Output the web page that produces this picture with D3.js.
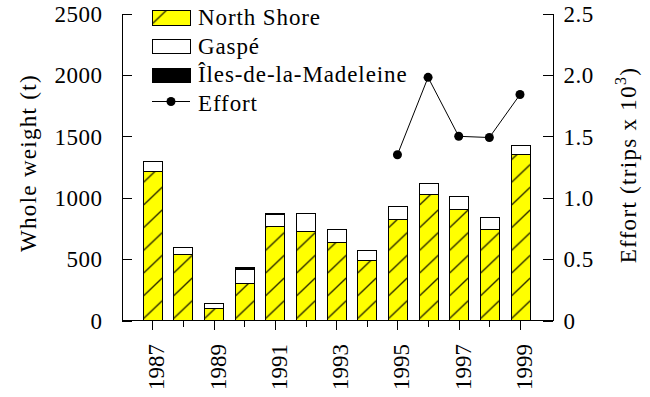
<!DOCTYPE html>
<meta charset="utf-8">
<style type="text/css">
body {
  margin: 0;
  background: #fff;
}
svg text {
  font-family: "Liberation Serif", "Times New Roman", serif;
  font-size: 23px;
  fill: #000;
}
.axis text {
  letter-spacing: 0.5px;
}
text.leg {
  letter-spacing: 0.9px;
}
text.title {
  letter-spacing: 1.3px;
}
tspan.sup {
  font-size: 16px;
}
.axis path,
.axis line {
  fill: none;
  stroke: #000;
  stroke-width: 1px;
  shape-rendering: crispEdges;
}
.bar rect {
  stroke: #000;
  stroke-width: 1px;
  shape-rendering: crispEdges;
}
</style>
<body>
</body>

<script src="https://cdn.jsdelivr.net/npm/d3@7"></script>
<script>
var years = [1987, 1988, 1989, 1990, 1991, 1992, 1993, 1994, 1995, 1996, 1997, 1998, 1999];
var northShore = [1217, 541, 99, 303, 769, 723, 633, 492, 826, 1030, 902, 742, 1350];
var gaspe = [81, 55, 38, 112, 92, 146, 106, 79, 104, 84, 109, 98, 78];
var iles = [0, 0, 0, 15, 8, 0, 0, 0, 0, 0, 0, 0, 0];

var effortYears = [1995, 1996, 1997, 1998, 1999];
var effort = [1.35, 1.98, 1.50, 1.49, 1.84];

var leftTicks = [0, 500, 1000, 1500, 2000, 2500];
var rightTicks = [0, 0.5, 1.0, 1.5, 2.0, 2.5];
var labelYears = [1987, 1989, 1991, 1993, 1995, 1997, 1999];

var W = 650, H = 397;
var plotLeft = 121.5, plotRight = 552.5, plotTop = 13.5, plotBottom = 320.5;
var barWidth = 19;

var svg = d3.select("body")
  .append("svg")
    .attr("width", W)
    .attr("height", H);

var x = d3.scaleLinear()
  .domain([1987, 1999])
  .range([152.3, 520]);

var yl = d3.scaleLinear()
  .domain([0, 2500])
  .range([plotBottom, plotTop]);

var yr = d3.scaleLinear()
  .domain([0, 2.5])
  .range([plotBottom, plotTop]);

var defs = svg.append("defs");

function hatch(id, x0, y0, w) {
  var h = 22.7;
  var p = defs.append("pattern")
    .attr("id", id)
    .attr("patternUnits", "userSpaceOnUse")
    .attr("x", x0)
    .attr("y", y0)
    .attr("width", w)
    .attr("height", h);
  p.append("rect")
    .attr("width", w)
    .attr("height", h)
    .attr("fill", "#ffff00");
  p.append("line")
    .attr("x1", 0).attr("y1", h - 2)
    .attr("x2", w).attr("y2", h - 2 - w * 0.95)
    .attr("stroke", "#000")
    .attr("stroke-width", 1.1);
}

var data = years.map(function(yy, i) {
  return { year: yy, ns: northShore[i], ga: gaspe[i], il: iles[i], i: i };
});

var bars = svg.selectAll("g.bar")
  .data(data)
  .enter().append("g")
  .attr("class", "bar");

bars.each(function(d) {
  var g = d3.select(this);
  var bx = Math.round(x(d.year) - barWidth / 2) + 0.5;
  hatch("hatch" + d.i, bx, plotBottom, barWidth);
  var top1 = yl(d.ns + d.ga + d.il);
  var top2 = yl(d.ns + d.ga);
  var top3 = yl(d.ns);
  g.append("rect")
    .attr("x", bx).attr("width", barWidth)
    .attr("y", top3).attr("height", plotBottom - top3)
    .attr("fill", "url(#hatch" + d.i + ")");
  g.append("rect")
    .attr("x", bx).attr("width", barWidth)
    .attr("y", top2).attr("height", top3 - top2)
    .attr("fill", "#fff");
  if (d.il > 0) {
    g.append("rect")
      .attr("x", bx).attr("width", barWidth)
      .attr("y", top1).attr("height", top2 - top1)
      .attr("fill", "#000");
  }
});

// axes
var leftAxis = d3.axisLeft(yl)
  .tickValues(leftTicks)
  .tickSize(-10)
  .tickPadding(19)
  .tickSizeOuter(0)
  .tickFormat(d3.format("d"));

svg.append("g")
  .attr("class", "axis")
  .attr("transform", "translate(" + plotLeft + ",0)")
  .call(leftAxis);

var rightAxis = d3.axisRight(yr)
  .tickValues(rightTicks)
  .tickSize(-10)
  .tickPadding(11)
  .tickSizeOuter(0)
  .tickFormat(function(d) { return d === 0 ? "0" : d3.format(".1f")(d); });

svg.append("g")
  .attr("class", "axis")
  .attr("transform", "translate(" + plotRight + ",0)")
  .call(rightAxis);

svg.selectAll(".axis text")
  .attr("dy", "0.34em");

var xAxis = d3.axisBottom(x)
  .tickValues(years)
  .tickSize(0)
  .tickFormat("");

var xg = svg.append("g")
  .attr("class", "axis")
  .attr("transform", "translate(0," + plotBottom + ")")
  .call(xAxis);
xg.select(".domain").remove();
xg.append("line")
  .attr("x1", plotLeft).attr("x2", plotRight)
  .attr("y1", 0).attr("y2", 0);
xg.selectAll(".tick line")
  .attr("y2", function(d) { return (d % 2 === 1) ? 9 : 6; });

svg.selectAll("text.year")
  .data(labelYears)
  .enter().append("text")
  .attr("class", "year")
  .attr("text-anchor", "end")
  .attr("transform", function(d) {
    return "translate(" + (x(d) + 12) + ",344) rotate(-90)";
  })
  .text(function(d) { return d; });

// effort line
var line = d3.line()
  .x(function(d, i) { return x(effortYears[i]); })
  .y(function(d) { return yr(d); });

svg.append("path")
  .datum(effort)
  .attr("d", line)
  .attr("fill", "none")
  .attr("stroke", "#000")
  .attr("stroke-width", 1);

svg.selectAll("circle.effort")
  .data(effort)
  .enter().append("circle")
  .attr("class", "effort")
  .attr("cx", function(d, i) { return x(effortYears[i]); })
  .attr("cy", function(d) { return yr(d); })
  .attr("r", 4.5)
  .attr("fill", "#000");

// axis titles
svg.append("text")
  .attr("class", "title")
  .attr("text-anchor", "middle")
  .attr("transform", "translate(36,163) rotate(-90)")
  .text("Whole weight (t)");

var rt = svg.append("text")
  .attr("class", "title")
  .attr("text-anchor", "middle")
  .attr("transform", "translate(636,165) rotate(-90)");
rt.append("tspan").text("Effort (trips x 10");
rt.append("tspan").attr("class", "sup").attr("dy", -10).text("3");
rt.append("tspan").attr("dy", 10).text(")");

// legend
var legend = svg.append("g").attr("class", "legend");
hatch("hatchLegend", 152.5, 25.5, 38);

legend.append("rect")
  .attr("x", 152.5).attr("y", 10.5).attr("width", 38).attr("height", 15)
  .attr("fill", "url(#hatchLegend)").attr("stroke", "#000")
  .attr("shape-rendering", "crispEdges");
legend.append("rect")
  .attr("x", 152.5).attr("y", 39.5).attr("width", 38).attr("height", 14)
  .attr("fill", "#fff").attr("stroke", "#000")
  .attr("shape-rendering", "crispEdges");
legend.append("rect")
  .attr("x", 152.5).attr("y", 68.5).attr("width", 38).attr("height", 14)
  .attr("fill", "#000").attr("stroke", "#000")
  .attr("shape-rendering", "crispEdges");
legend.append("line")
  .attr("x1", 152).attr("x2", 190).attr("y1", 101.5).attr("y2", 101.5)
  .attr("stroke", "#000");
legend.append("circle")
  .attr("cx", 171).attr("cy", 101.5).attr("r", 4.5).attr("fill", "#000");

var names = ["North Shore", "Gaspé", "Îles-de-la-Madeleine", "Effort"];
var baselines = [25, 53.5, 82, 111];
legend.selectAll("text")
  .data(names)
  .enter().append("text")
  .attr("class", "leg")
  .attr("x", 198)
  .attr("y", function(d, i) { return baselines[i]; })
  .text(function(d) { return d; });
</script>
